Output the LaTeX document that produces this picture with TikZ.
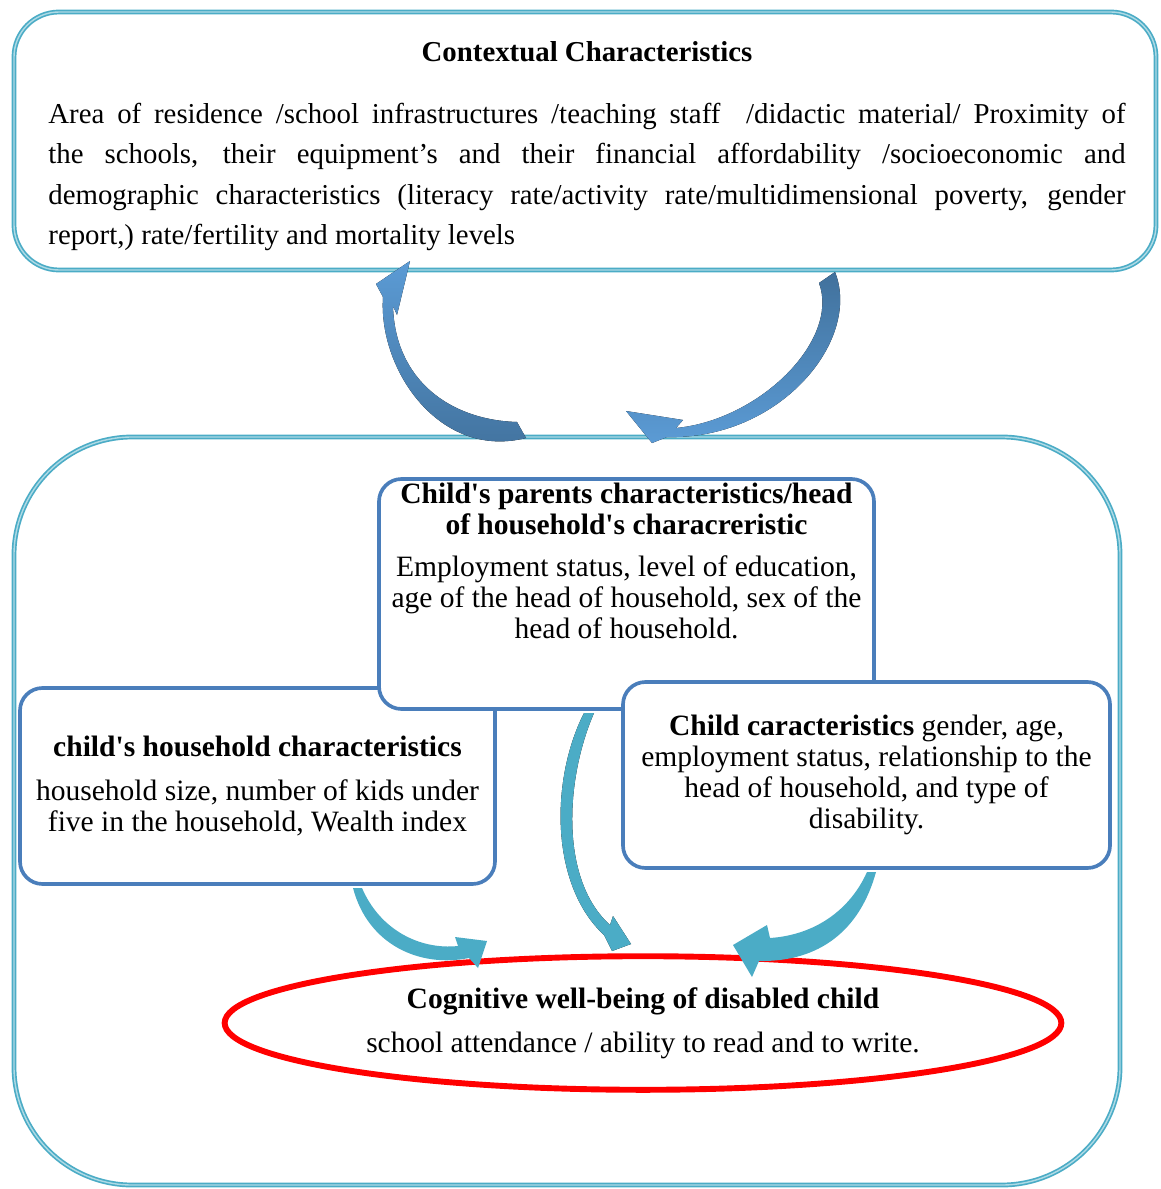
\documentclass[tikz,border=0pt]{standalone}
\usepackage{fontspec}
\setmainfont{Liberation Serif}[Ligatures=TeXOff]
\usetikzlibrary{positioning,fit,shapes.geometric}
\definecolor{boxblue}{HTML}{4A7EBB}
\definecolor{frameteal}{HTML}{4BACC6}
\definecolor{arrowblue}{HTML}{5B9BD5}
\definecolor{arrowdark}{HTML}{41719C}
\definecolor{arrowteal}{HTML}{4BACC6}

\begin{document}
\begin{tikzpicture}[x=0.025cm,y=-0.025cm,
    frame/.style={draw=frameteal,line width=1.2pt,double=frameteal!45,double distance=1pt,fill=white,inner sep=0pt},
    infobox/.style={draw=boxblue,line width=2.6pt,rounded corners=16pt,fill=white,inner sep=0pt},
    boxtext/.style={align=center,inner sep=0pt,font=\fontsize{21}{22}\selectfont},
    goal/.style={draw=red,line width=4.2pt,ellipse,inner sep=0pt,align=center,font=\fontsize{21}{22}\selectfont}]
            \useasboundingbox (0,0) rectangle (1160,1189);
            % Rahmen
            \node[frame,rounded corners=84pt,fit={(14,437) (1120,1185)}] (level) {};
            \node[frame,rounded corners=32pt,fit={(14,12) (1156,270)}] (ctx) {};
            \node[anchor=north,text width=766pt,align=justify,inner sep=0pt,font=\fontsize{20.5}{28.5}\selectfont] (ctxtxt) at (587,41)
              {{\centering\textbf{Contextual Characteristics}\par}\vspace{16pt}
               Area of residence /school infrastructures /teaching staff \ /didactic material/ Proximity of\linebreak
               the schools, their equipment’s and their financial affordability /socioeconomic and\linebreak
               demographic characteristics (literacy rate/activity rate/multidimensional poverty, gender\linebreak
               report,) rate/fertility and mortality levels};

            % Kaesten
            \node[infobox,fit={(20,688) (495,884)}] (hh) {};
            \node[boxtext] (hhtxt) at (hh.center)
              {\textbf{child's household characteristics}\\[9pt]
               household size, number of kids under\\ five in the household, Wealth index};
            \node[infobox,fit={(379,479) (874,709)}] (par) {};
            \node[boxtext,below=4pt of par.north] (partxt)
              {\textbf{Child's parents characteristics/head}\\ \textbf{of household's characreristic}\\[8pt]
               Employment status, level of education,\\ age of the head of household, sex of the\\ head of household.};
            \node[infobox,fit={(623,682) (1110,868)}] (kid) {};
            \node[boxtext] (kidtxt) at (kid.center)
              {\textbf{Child caracteristics} gender, age,\\ employment status, relationship to the\\
               head of household, and type of\\ disability.};

            \node[goal,minimum width=595pt,minimum height=95pt] (wellbeing) at (643,1023)
              {\textbf{Cognitive well-being of disabled child}\\[9pt] school attendance / ability to read and to write.};

            % Pfeile oben
            \fill[top color=arrowblue,bottom color=arrowdark]
              (517,422) .. controls (450,420) and (395,380) .. (393,306)
              -- (397,315) -- (410,261) -- (376,284) -- (383,297)
              .. controls (378,370) and (440,460) .. (526,438) -- cycle;
            \fill[top color=arrowdark,bottom color=arrowblue]
              (819,283) .. controls (840,340) and (760,420) .. (676,428)
              -- (683,420) -- (626,411) -- (652,443) -- (667,437)
              .. controls (780,440) and (862,340) .. (835,272) -- cycle;

            % Pfeile unten
            \fill[arrowteal]
              (353,888) -- (362,888) .. controls (380,930) and (420,950) .. (458,946)
              -- (455,937) -- (487,941) -- (478,968) -- (469,958)
              .. controls (420,968) and (368,945) .. (353,888) -- cycle;
            \fill[top color=arrowteal,middle color=arrowteal!15,bottom color=arrowteal]
              (584,713) -- (594,713) .. controls (565,780) and (560,880) .. (610,925)
              -- (613,916) -- (631,944) -- (612,951) -- (604,935)
              .. controls (550,885) and (550,780) .. (584,713) -- cycle;
            \fill[arrowteal]
              (867,872) -- (876,872) .. controls (860,930) and (820,962) .. (759,961)
              -- (752,977) -- (733,945) -- (767,925) -- (770,938)
              .. controls (815,935) and (850,910) .. (867,872) -- cycle;

        \end{tikzpicture}
\end{document}
